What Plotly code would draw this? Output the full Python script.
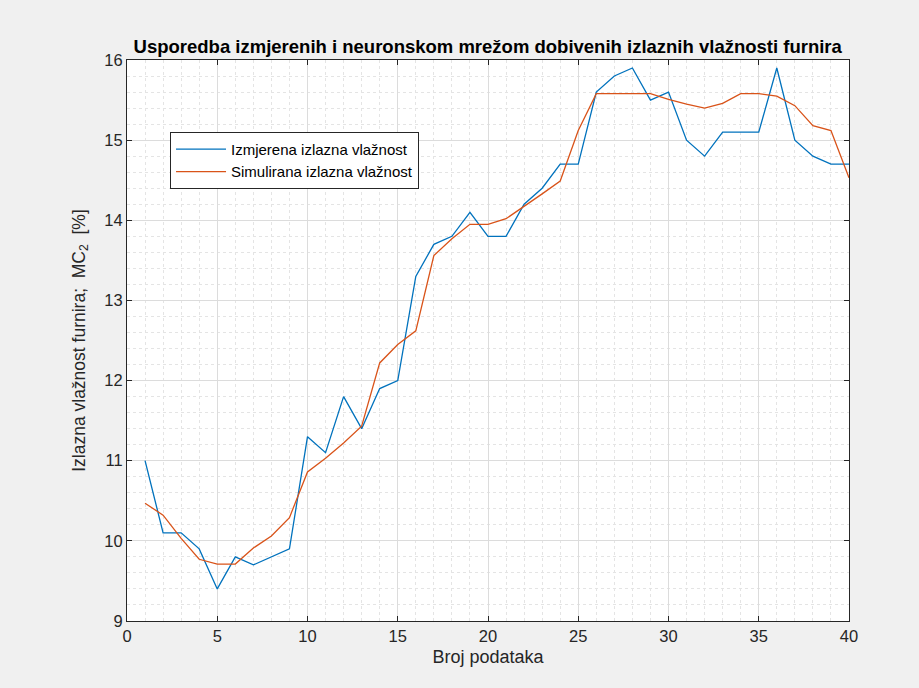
import plotly.graph_objects as go

# Data point index (1..40)
broj = list(range(1, 41))

# Measured outlet moisture content MC2 [%]
izmjerena = [11.0, 10.1, 10.1, 9.9, 9.4, 9.8, 9.7, 9.8, 9.9, 11.3,
             11.1, 11.8, 11.4, 11.9, 12.0, 13.3, 13.7, 13.8, 14.1, 13.8,
             13.8, 14.2, 14.4, 14.7, 14.7, 15.6, 15.8, 15.9, 15.5, 15.6,
             15.0, 14.8, 15.1, 15.1, 15.1, 15.9, 15.0, 14.8, 14.7, 14.7]

# Neural-network simulated outlet moisture content MC2 [%]
simulirana = [10.47, 10.32, 10.03, 9.77, 9.71, 9.71, 9.91, 10.06, 10.29, 10.86,
              11.03, 11.22, 11.43, 12.22, 12.45, 12.62, 13.56, 13.77, 13.95, 13.95,
              14.02, 14.17, 14.33, 14.49, 15.12, 15.58, 15.58, 15.58, 15.58, 15.51,
              15.45, 15.40, 15.46, 15.58, 15.58, 15.55, 15.43, 15.18, 15.12, 14.53]

x_ticks = [0, 5, 10, 15, 20, 25, 30, 35, 40]
y_ticks = [9, 10, 11, 12, 13, 14, 15, 16]

FONT = "Liberation Sans, Arial, Helvetica, sans-serif"
AXIS_COL = "#262626"
GRID_MAJ = "#dcdcdc"
GRID_MIN = "#e4e4e4"

fig = go.Figure()
fig.add_trace(go.Scatter(x=broj, y=izmjerena, mode="lines",
                         name="Izmjerena izlazna vlažnost",
                         line=dict(color="#0072BD", width=1.3)))
fig.add_trace(go.Scatter(x=broj, y=simulirana, mode="lines",
                         name="Simulirana izlazna vlažnost",
                         line=dict(color="#D95319", width=1.3)))

axis_common = dict(
    showline=True, linecolor=AXIS_COL, linewidth=1, mirror="ticks",
    ticks="inside", ticklen=5, tickcolor=AXIS_COL, tickwidth=1,
    showgrid=True, gridcolor=GRID_MAJ, gridwidth=1,
    zeroline=False,
    tickfont=dict(family=FONT, size=16.5, color=AXIS_COL),
)

fig.update_xaxes(
    range=[0, 40], tickvals=x_ticks, ticktext=[str(v) for v in x_ticks],
    minor=dict(dtick=1, tick0=0, showgrid=True, gridcolor=GRID_MIN,
               griddash="dot", gridwidth=1, ticks=""),
    title=dict(text="Broj podataka", font=dict(family=FONT, size=18, color=AXIS_COL),
               standoff=6),
    **axis_common,
)
fig.update_yaxes(
    range=[9, 16], tickvals=y_ticks, ticktext=[str(v) for v in y_ticks],
    minor=dict(dtick=0.2, tick0=9, showgrid=True, gridcolor=GRID_MIN,
               griddash="dot", gridwidth=1, ticks=""),
    title=dict(text="Izlazna vlažnost furnira;  MC<sub>2</sub>  [%]",
               font=dict(family=FONT, size=17.5, color=AXIS_COL), standoff=14),
    **axis_common,
)

fig.update_layout(
    width=919, height=688,
    margin=dict(l=127, r=70, t=60, b=67),
    paper_bgcolor="#f0f0f0", plot_bgcolor="white",
    title=dict(text="<b>Usporedba izmjerenih i neuronskom mrežom dobivenih izlaznih vlažnosti furnira</b>",
               font=dict(family=FONT, size=18.5, color="#000000"),
               x=0.5307, xanchor="center", y=0.933, yanchor="middle"),
    legend=dict(x=0.0596, y=0.872, xanchor="left", yanchor="top",
                bgcolor="white", bordercolor=AXIS_COL, borderwidth=1,
                font=dict(family=FONT, size=15, color="#000000"),
                itemwidth=50, tracegroupgap=0),
    showlegend=True,
)

fig.write_html("out.html")
